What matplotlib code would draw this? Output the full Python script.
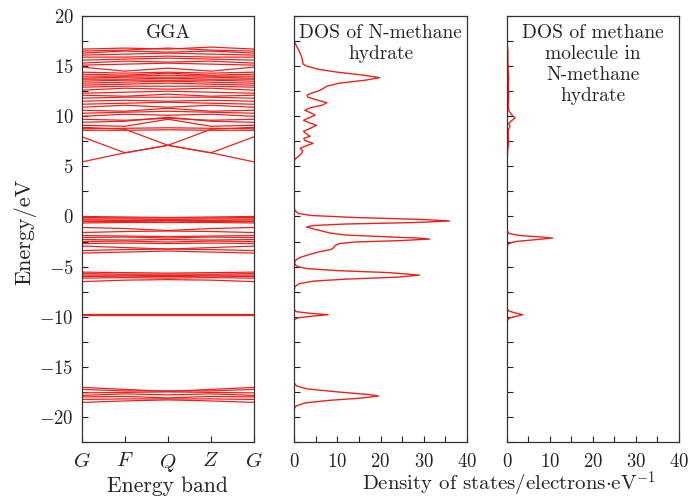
import numpy as np
import matplotlib
matplotlib.use("Agg")
import matplotlib.pyplot as plt
from matplotlib.ticker import MultipleLocator

plt.rcParams['font.family'] = ['cmr10', 'DejaVu Serif']
plt.rcParams['mathtext.fontset'] = 'cm'
plt.rcParams['axes.formatter.use_mathtext'] = True
plt.rcParams['axes.unicode_minus'] = True

RED = '#e8231e'
TXT = '#222222'

# k-path
kpoints = [0, 1, 2, 3, 4]
klabels = ['$G$', '$F$', '$Q$', '$Z$', '$G$']

# band energies (eV) at G, F, Q, Z, G
cond_bands = [
    [5.45, 6.35, 7.10, 6.35, 5.45],
    [7.95, 6.35, 7.10, 6.35, 7.95],
    [8.90, 8.70, 7.10, 8.70, 8.90],
    [8.60, 8.60, 8.65, 8.60, 8.60],
    [8.75, 8.80, 8.85, 8.80, 8.75],
    [9.10, 9.00, 9.70, 9.00, 9.10],
    [9.40, 9.50, 9.90, 9.50, 9.40],
    [9.70, 9.60, 9.80, 9.60, 9.70],
    [10.0, 10.2, 10.1, 10.2, 10.0],
    [10.3, 10.4, 10.5, 10.4, 10.3],
    [10.6, 10.5, 10.8, 10.5, 10.6],
    [10.9, 11.1, 10.9, 11.1, 10.9],
    [11.2, 11.3, 11.4, 11.3, 11.2],
    [11.5, 11.6, 11.5, 11.6, 11.5],
    [11.8, 11.9, 11.9, 11.9, 11.8],
    [12.1, 12.0, 12.2, 12.0, 12.1],
    [12.3, 12.4, 12.5, 12.4, 12.3],
    [12.6, 12.8, 12.7, 12.8, 12.6],
    [12.9, 13.0, 13.0, 13.0, 12.9],
    [13.1, 13.2, 13.3, 13.2, 13.1],
    [13.3, 13.4, 13.5, 13.4, 13.3],
    [13.5, 13.6, 13.6, 13.6, 13.5],
    [13.7, 13.7, 13.8, 13.7, 13.7],
    [13.8, 13.9, 13.9, 13.9, 13.8],
    [14.0, 14.0, 14.1, 14.0, 14.0],
    [14.2, 14.1, 14.3, 14.1, 14.2],
    [14.4, 14.3, 14.4, 14.3, 14.4],
    [14.9, 14.5, 14.8, 14.5, 14.9],
    [15.1, 15.2, 15.3, 15.2, 15.1],
    [15.3, 15.5, 15.4, 15.5, 15.3],
    [15.6, 15.7, 15.8, 15.7, 15.6],
    [15.9, 15.9, 16.0, 15.9, 15.9],
    [16.1, 16.2, 16.3, 16.2, 16.1],
    [16.3, 16.5, 16.4, 16.5, 16.3],
    [16.5, 16.6, 16.8, 16.6, 16.5],
    [16.7, 16.8, 16.7, 16.9, 16.7],
]

val_bands = [
    [0.00, -0.05, -0.10, -0.05, 0.00],
    [-0.10, -0.15, -0.15, -0.15, -0.10],
    [-0.25, -0.25, -0.30, -0.25, -0.25],
    [-0.35, -0.40, -0.40, -0.40, -0.35],
    [-0.50, -0.50, -0.55, -0.50, -0.50],
    [-0.65, -0.60, -0.60, -0.60, -0.65],
    [-1.10, -1.20, -1.40, -1.20, -1.10],
    [-1.60, -1.50, -1.45, -1.50, -1.60],
    [-1.90, -1.95, -2.00, -1.95, -1.90],
    [-2.10, -2.05, -2.15, -2.05, -2.10],
    [-2.30, -2.35, -2.30, -2.35, -2.30],
    [-2.50, -2.45, -2.55, -2.45, -2.50],
    [-2.70, -2.65, -2.70, -2.65, -2.70],
    [-2.95, -3.10, -3.25, -3.10, -2.95],
    [-3.40, -3.30, -3.25, -3.30, -3.40],
    [-3.65, -3.55, -3.45, -3.55, -3.65],
    [-5.55, -5.60, -5.65, -5.60, -5.55],
    [-5.70, -5.75, -5.75, -5.75, -5.70],
    [-5.85, -5.85, -5.90, -5.85, -5.85],
    [-6.00, -5.95, -6.00, -5.95, -6.00],
    [-6.15, -6.10, -6.15, -6.10, -6.15],
    [-6.50, -6.35, -6.30, -6.35, -6.50],
    [-9.80, -9.80, -9.80, -9.80, -9.80],
    [-9.75, -9.75, -9.75, -9.75, -9.75],
    [-17.05, -17.25, -17.45, -17.25, -17.05],
    [-17.25, -17.40, -17.40, -17.40, -17.25],
    [-17.60, -17.55, -17.50, -17.55, -17.60],
    [-17.85, -17.70, -17.80, -17.70, -17.85],
    [-18.00, -17.95, -18.10, -17.95, -18.00],
    [-18.25, -18.20, -18.20, -18.20, -18.25],
    [-18.55, -18.40, -18.30, -18.40, -18.55],
]

# total DOS of N-methane hydrate: energy (eV), DOS
dos_total_E = [17.5, 17.0, 16.5, 16.0, 15.5, 15.2, 15.0, 14.7, 14.4, 14.1,
               13.85, 13.6, 13.3, 13.0, 12.7, 12.5, 12.3, 12.1, 11.9, 11.6,
               11.35, 11.1, 10.85, 10.6, 10.35, 10.1, 9.85, 9.6, 9.35, 9.1,
               8.8, 8.5, 8.25, 8.0, 7.8, 7.6, 7.3, 7.05, 6.8, 6.55,
               6.3, 6.0, 5.7, 5.4, 1.0, 0.6, 0.3, 0.1, -0.1, -0.3,
               -0.45, -0.6, -0.75, -0.9, -1.05, -1.25, -1.45, -1.65, -1.85, -2.0,
               -2.15, -2.25, -2.4, -2.55, -2.7, -2.9, -3.1, -3.3, -3.5, -3.8,
               -4.1, -4.4, -4.7, -5.0, -5.2, -5.4, -5.6, -5.85, -6.05, -6.25,
               -6.45, -6.7, -7.0, -7.5, -9.3, -9.5, -9.65, -9.8, -9.95, -10.1,
               -10.3, -16.6, -16.9, -17.2, -17.5, -17.75, -17.9, -18.1, -18.35, -18.6,
               -18.9, -19.2, -22.5]
dos_total = [0.0, 0.6, 1.2, 1.7, 2.0, 2.1, 3.0, 5.5, 10.0, 16.0,
             19.8, 16.5, 10.5, 7.6, 6.5, 5.5, 4.0, 3.0, 3.2, 5.5,
             7.6, 6.5, 3.8, 2.5, 3.8, 4.9, 3.5, 2.2, 3.5, 5.2,
             3.8, 2.2, 2.8, 3.7, 2.3, 2.4, 4.4, 2.8, 1.4, 2.0,
             1.8, 1.0, 0.2, 0.0, 0.0, 0.2, 1.0, 4.0, 14.0, 30.0,
             36.0, 28.0, 12.0, 4.5, 2.9, 4.5, 6.5, 8.3, 12.0, 20.0,
             28.5, 31.4, 25.0, 14.0, 10.5, 9.5, 9.2, 8.5, 6.0, 3.5,
             1.3, 0.3, 0.1, 0.8, 3.0, 10.0, 22.0, 29.0, 24.0, 12.0,
             4.5, 1.2, 0.2, 0.0, 0.0, 0.6, 3.5, 7.9, 4.0, 1.0,
             0.0, 0.0, 0.6, 3.0, 10.0, 17.0, 19.5, 16.0, 8.0, 2.5,
             0.5, 0.0, 0.0]

# DOS of methane molecule
dos_ch4_E = [17.5, 16.5, 15.5, 14.5, 13.8, 13.0, 12.0, 11.0, 10.5, 10.1,
             9.85, 9.6, 9.3, 9.0, 8.6, 8.0, 7.3, 6.8, 6.0, 5.5,
             -1.4, -1.7, -1.9, -2.05, -2.15, -2.3, -2.5, -2.7, -3.0, -9.2,
             -9.45, -9.65, -9.8, -9.95, -10.15, -10.4, -22.5]
dos_ch4 = [0.0, 0.2, 0.2, 0.3, 0.4, 0.3, 0.4, 0.3, 0.5, 1.2,
           1.9, 1.2, 0.4, 0.7, 0.3, 0.3, 0.4, 0.2, 0.1, 0.0,
           0.0, 0.5, 3.0, 8.0, 10.6, 7.0, 2.0, 0.4, 0.0, 0.0,
           0.5, 2.2, 3.7, 2.2, 0.5, 0.0, 0.0]

fig = plt.figure(figsize=(6.89, 4.99), dpi=100)
ax1 = fig.add_axes([0.119, 0.1142, 0.2496, 0.8537])
ax2 = fig.add_axes([0.4267, 0.1142, 0.2511, 0.8537])
ax3 = fig.add_axes([0.7358, 0.1142, 0.2496, 0.8537])

for b in cond_bands + val_bands:
    ax1.plot(kpoints, b, color=RED, lw=0.9)
ax2.plot(dos_total, dos_total_E, color=RED, lw=1.0)
ax3.plot(dos_ch4, dos_ch4_E, color=RED, lw=1.0)

for ax in (ax1, ax2, ax3):
    ax.set_ylim(-22.5, 20)
    ax.yaxis.set_major_locator(MultipleLocator(5))
    ax.yaxis.set_minor_locator(MultipleLocator(2.5))
    ax.tick_params(which='both', direction='in', right=False, top=False,
                   labelsize=13.5, colors=TXT, width=0.8, length=4)
    ax.tick_params(axis='y', pad=6)
    for s in ax.spines.values():
        s.set_color('#333333')
        s.set_linewidth(0.9)

ax1.set_xlim(0, 4)
ax1.set_xticks(kpoints)
ax1.set_xticklabels(klabels, fontsize=15)
ax1.tick_params(axis='x', pad=7)
ax1.text(0.5, 0.98, 'GGA', transform=ax1.transAxes, ha='center', va='top',
         fontsize=14, color=TXT)

for ax in (ax2, ax3):
    ax.set_xlim(0, 40)
    ax.xaxis.set_major_locator(MultipleLocator(10))
    ax.xaxis.set_minor_locator(MultipleLocator(5))
    ax.tick_params(axis='y', labelleft=False)
    ax.tick_params(axis='x', pad=8)

ax2.text(0.5, 0.98, 'DOS of N-methane\nhydrate', transform=ax2.transAxes,
         ha='center', va='top', fontsize=14, color=TXT, linespacing=1.2)
ax3.text(0.5, 0.98, 'DOS of methane\nmolecule in\nN-methane\nhydrate',
         transform=ax3.transAxes, ha='center', va='top', fontsize=14,
         color=TXT, linespacing=1.2)

# axis titles
fig.text(25 / 689, 1 - 232 / 499, 'Energy/eV', rotation=90, ha='center',
         va='center', fontsize=16, color=TXT)
fig.text(167 / 689, 1 - 486 / 499, 'Energy band', ha='center', va='center',
         fontsize=15.5, color=TXT)
fig.text(509 / 689, 1 - 484 / 499, r'Density of states/electrons$\cdot$eV$^{-1}$',
         ha='center', va='center', fontsize=15, color=TXT)

fig.savefig('out.png', dpi=100)
